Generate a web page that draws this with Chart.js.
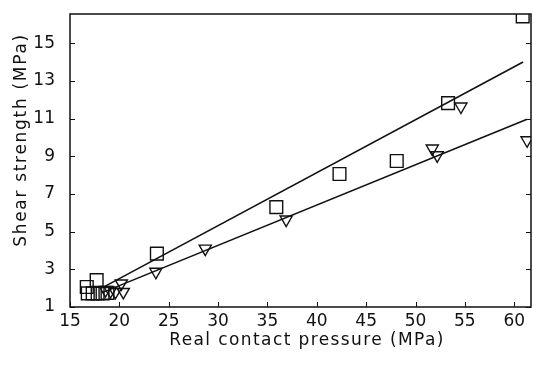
<!DOCTYPE html>
<html>
<head>
<meta charset="utf-8">
<script src="https://cdn.jsdelivr.net/npm/chart.js@4/dist/chart.umd.min.js"></script>
<style>
  html, body { margin: 0; padding: 0; background: #fff; }
  canvas { display: block; }
</style>
</head>
<body>
<canvas id="chart" width="533" height="372"></canvas>
<script>
// Measured points: squares
const squareX = [60.86, 53.3, 48.1, 42.3, 35.9, 23.8, 17.7, 16.7, 16.8, 17.3, 17.8, 18.3, 18.8];
const squareY = [16.42, 11.82, 8.75, 8.06, 6.3, 3.83, 2.43, 2.06, 1.72, 1.72, 1.72, 1.72, 1.75];

// Measured points: triangles
const triangleX = [61.3, 54.6, 51.7, 52.2, 36.9, 28.7, 23.7, 20.2, 20.4, 19.6, 19.1, 18.6];
const triangleY = [9.85, 11.64, 9.41, 9.05, 5.64, 4.1, 2.87, 2.25, 1.8, 1.8, 1.85, 1.9];

// Linear fits (end points)
const fitSquareX = [18.2, 60.9];
const fitSquareY = [2.0, 14.0];
const fitTriangleX = [18.2, 61.3];
const fitTriangleY = [1.75, 10.96];

// Axis ticks
const xTicks = [15, 20, 25, 30, 35, 40, 45, 50, 55, 60];
const yTicks = [1, 3, 5, 7, 9, 11, 13, 15];
const xRange = [15, 61.7];
const yRange = [1, 16.55];

const xTitle = 'Real contact pressure (MPa)';
const yTitle = 'Shear strength (MPa)';

const INK = '#111';
const FONT = 'DejaVu Sans';

const toPoints = (xs, ys) => xs.map((x, i) => ({ x: x, y: ys[i] }));

// Keep the plot box fixed: no extra room reserved for overhanging labels
const noPad = s => { s.paddingLeft = 0; s.paddingRight = 0; s.paddingTop = 0; s.paddingBottom = 0; };

// Frame, inward tick marks and axis titles
const framePlugin = {
  id: 'frame',
  afterDraw(chart) {
    const { ctx, chartArea: a, scales } = chart;
    ctx.save();
    ctx.strokeStyle = INK;
    ctx.lineWidth = 1.5;
    ctx.strokeRect(a.left, a.top, a.right - a.left, a.bottom - a.top);
    ctx.lineWidth = 1;
    ctx.beginPath();
    xTicks.forEach(v => {
      const px = Math.round(scales.x.getPixelForValue(v)) + 0.5;
      ctx.moveTo(px, a.bottom);
      ctx.lineTo(px, a.bottom - 5);
    });
    yTicks.forEach(v => {
      const py = Math.round(scales.y.getPixelForValue(v)) + 0.5;
      ctx.moveTo(a.left, py);
      ctx.lineTo(a.left + 5, py);
      ctx.moveTo(a.right, py);
      ctx.lineTo(a.right - 5, py);
    });
    ctx.stroke();

    ctx.fillStyle = INK;
    ctx.font = '17px "' + FONT + '"';
    ctx.textAlign = 'center';
    ctx.textBaseline = 'middle';
    ctx.letterSpacing = '1.4px';
    ctx.fillText(xTitle, 307, 341);
    ctx.translate(22, 140);
    ctx.rotate(-Math.PI / 2);
    ctx.letterSpacing = '1.7px';
    ctx.fillText(yTitle, 0, 0);
    ctx.restore();
  }
};

new Chart(document.getElementById('chart'), {
  type: 'scatter',
  data: {
    datasets: [
      {
        data: toPoints(squareX, squareY),
        pointStyle: 'rect',
        pointRadius: 9,
        pointBorderWidth: 1.4,
        pointBorderColor: INK,
        pointBackgroundColor: 'rgba(0,0,0,0)'
      },
      {
        data: toPoints(triangleX, triangleY),
        pointStyle: 'triangle',
        rotation: 180,
        pointRadius: 7,
        pointBorderWidth: 1.4,
        pointBorderColor: INK,
        pointBackgroundColor: 'rgba(0,0,0,0)'
      },
      {
        type: 'line',
        data: toPoints(fitSquareX, fitSquareY),
        borderColor: INK,
        borderWidth: 1.6,
        pointRadius: 0,
        fill: false
      },
      {
        type: 'line',
        data: toPoints(fitTriangleX, fitTriangleY),
        borderColor: INK,
        borderWidth: 1.6,
        pointRadius: 0,
        fill: false
      }
    ]
  },
  options: {
    responsive: false,
    animation: false,
    events: [],
    layout: { autoPadding: false, padding: { top: 14, right: 2, left: 0, bottom: 0 } },
    plugins: {
      legend: { display: false },
      tooltip: { enabled: false }
    },
    scales: {
      x: {
        type: 'linear',
        min: xRange[0],
        max: xRange[1],
        afterBuildTicks: s => { s.ticks = xTicks.map(v => ({ value: v })); },
        afterFit: s => { s.height = 65; noPad(s); },
        grid: { display: false, drawTicks: false },
        border: { display: false },
        ticks: {
          color: INK,
          padding: 4,
          maxRotation: 0,
          autoSkip: false,
          font: { family: FONT, size: 17 }
        }
      },
      y: {
        type: 'linear',
        min: yRange[0],
        max: yRange[1],
        afterBuildTicks: s => { s.ticks = yTicks.map(v => ({ value: v })); },
        afterFit: s => { s.width = 70; noPad(s); },
        grid: { display: false, drawTicks: false },
        border: { display: false },
        ticks: {
          color: INK,
          padding: 15,
          autoSkip: false,
          font: { family: FONT, size: 17 }
        }
      }
    }
  },
  plugins: [framePlugin]
});
</script>
</body>
</html>
